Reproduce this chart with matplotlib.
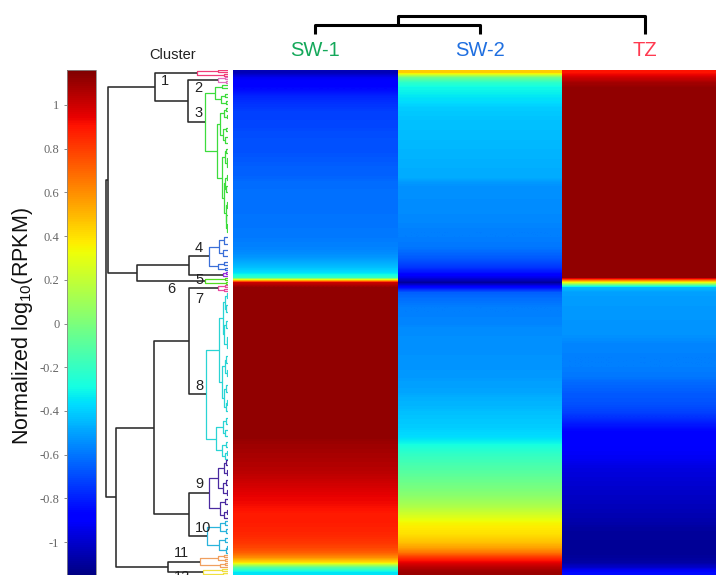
import numpy as np
import matplotlib
matplotlib.use("Agg")
import matplotlib.pyplot as plt
from matplotlib.colors import Normalize
from matplotlib.cm import ScalarMappable

# ---------------- data ----------------
samples = ["SW-1", "SW-2", "TZ"]
sample_colors = ["#14a85a", "#1f6fe0", "#ff3a50"]

# normalized log10(RPKM), one value per gene-row block (top -> bottom)
sw1 = [-1.05, -0.93, -0.88, -0.86, -0.82, -0.78, -0.76, -0.74, -0.72, -0.72,
       -0.71, -0.71, -0.69, -0.69, -0.68, -0.68, -0.68, -0.67, -0.66, -0.65,
       -0.65, -0.64, -0.62, -0.62, -0.61, -0.61, -0.61, -0.61, -0.61, -0.60,
       -0.60, -0.60, -0.59, -0.59, -0.58, -0.57, -0.55, -0.52, -0.48, -0.43,
       -0.36, -0.20, 1.00, 1.12, 1.12, 1.12, 1.12, 1.12, 1.12, 1.12,
       1.12, 1.12, 1.12, 1.12, 1.12, 1.12, 1.12, 1.12, 1.12, 1.12,
       1.12, 1.12, 1.12, 1.12, 1.12, 1.12, 1.12, 1.12, 1.12, 1.12,
       1.12, 1.12, 1.12, 1.12, 1.10, 1.09, 1.08, 1.07, 1.06, 1.05,
       1.04, 1.02, 1.00, 0.98, 0.96, 0.94, 0.93, 0.91, 0.89, 0.88,
       0.88, 0.87, 0.86, 0.84, 0.82, 0.78, 0.72, 0.60, 0.40, -0.10,
       -0.35]
sw2 = [0.45, -0.05, -0.22, -0.30, -0.32, -0.35, -0.37, -0.40, -0.41, -0.42,
       -0.43, -0.43, -0.44, -0.44, -0.45, -0.45, -0.46, -0.46, -0.47, -0.47,
       -0.48, -0.48, -0.52, -0.54, -0.54, -0.54, -0.55, -0.55, -0.55, -0.56,
       -0.56, -0.57, -0.58, -0.58, -0.59, -0.60, -0.63, -0.66, -0.70, -0.75,
       -0.83, -0.95, -1.10, -0.85, -0.65, -0.62, -0.60, -0.58, -0.58, -0.57,
       -0.57, -0.55, -0.55, -0.54, -0.54, -0.54, -0.54, -0.53, -0.53, -0.53,
       -0.52, -0.52, -0.50, -0.50, -0.49, -0.47, -0.46, -0.45, -0.43, -0.42,
       -0.41, -0.40, -0.38, -0.36, -0.31, -0.26, -0.22, -0.19, -0.16, -0.13,
       -0.10, -0.07, -0.04, -0.01, 0.02, 0.06, 0.10, 0.15, 0.22, 0.28,
       0.34, 0.37, 0.39, 0.43, 0.48, 0.55, 0.66, 0.82, 0.95, 1.05,
       1.10]
tz = [0.90, 1.00, 1.08, 1.12, 1.12, 1.12, 1.12, 1.12, 1.12, 1.12,
      1.12, 1.12, 1.12, 1.12, 1.12, 1.12, 1.12, 1.12, 1.12, 1.12,
      1.12, 1.12, 1.12, 1.12, 1.12, 1.12, 1.12, 1.12, 1.12, 1.12,
      1.12, 1.12, 1.12, 1.12, 1.12, 1.12, 1.12, 1.12, 1.12, 1.12,
      1.12, 1.12, 0.30, -0.45, -0.50, -0.51, -0.51, -0.52, -0.52, -0.52,
      -0.53, -0.53, -0.53, -0.54, -0.56, -0.57, -0.57, -0.58, -0.58, -0.58,
      -0.59, -0.60, -0.63, -0.64, -0.66, -0.67, -0.68, -0.70, -0.72, -0.76,
      -0.80, -0.84, -0.87, -0.88, -0.89, -0.90, -0.91, -0.92, -0.94, -0.96,
      -0.97, -0.98, -0.99, -1.00, -1.01, -1.02, -1.03, -1.04, -1.05, -1.06,
      -1.07, -1.09, -1.10, -1.10, -1.11, -1.11, -1.11, -1.10, -1.08, -1.00,
      -0.85]

vmin, vmax = -1.16, 1.16
cbar_ticks = [1, 0.8, 0.6, 0.4, 0.2, 0, -0.2, -0.4, -0.6, -0.8, -1]
cbar_ticklabels = ["1", "0.8", "0.6", "0.4", "0.2", "0", "-0.2", "-0.4", "-0.6", "-0.8", "-1"]

# row dendrogram: [height, left, right]; leaves are row positions
cluster_trees = {
    "c1": [31, [10, 0.0, 0.4], [4, 0.7, 1.1]],
    "c2": [10, [3, 1.4, 1.8], [2, 2.2, 2.6]],
    "c3": [23,
           [13, [6, 3.0, 3.6], [7, [3, 4.8, 5.4], [2, 6.2, 6.8]]],
           [11,
            [8, [4, [2, 7.6, 8.2], [1.5, 9.0, 9.6]], [5, [2, 11.5, 12.2], [3, 13.4, 14.6]]],
            [6,
             [3.5, [2, 15.8, 16.6], [1.5, [1, 17.6, 18.2], 19.4]],
             [4, [3, [1.5, 21.0, 22.0], [2, 23.2, 24.4]],
              [2.5, [1.5, 26.4, 27.6], [2, 29.0, [1, 30.8, 32.4]]]]]]],
    "c4": [19, [9, [4, 33.4, 34.8], [5, 36.0, 37.2]], [10, [4, 38.4, 39.0], [3, 39.5, 40.0]]],
    "c5": [5, [2, 40.4, 40.8], 41.2],
    "c6": [23, [3, 41.5, 41.9], [2, 42.3, 42.7]],
    "c7": [10, [3, 42.9, 43.3], [4, 43.7, 44.2]],
    "c8": [22,
           [9,
            [5, [3, [1.5, 44.6, 45.6], [2, 47.0, 48.4]],
             [4, [2, 50.2, 51.6], [1.5, [1, 53.4, 54.4], 55.6]]],
            [6, [3, [2, 57.2, 58.6], [1.5, 60.0, 61.2]],
             [4, [2.5, 63.0, 64.4], [2, [1, 66.0, 67.0], 68.2]]]],
           [12, [5, [2, 69.6, 70.8], [3, 72.0, 73.2]],
            [6, [2, 74.4, 75.4], [3, [1.5, 76.2, 77.0], 77.8]]]],
    "c9": [19, [10, [4, [2, 78.0, 79.0], [1.5, 80.0, 81.0]], [5, [2, 82.0, 83.0], [1.5, 84.0, 85.0]]],
           [8, [3, 85.8, 86.8], [4, [1.5, 88.0, 88.8], 89.6]]],
    "c10": [21, [8, [3, 90.2, 91.0], [2.5, 91.8, 92.6]], [9, [3, 93.6, 94.4], [2, [1, 95.2, 95.8], 96.5]]],
    "c11": [28, [10, [4, 97.0, 97.4], [3, 97.8, 98.2]], [8, [3, 98.5, 98.9], 99.3]],
    "c12": [25, [6, 99.7, 100.1], [5, 100.5, 101.0]],
}
main_tree = [122,
             [120, [73, "c1", [40, "c2", "c3"]], [91, [39, "c4", "c5"], "c6"]],
             [112, [74, [39, "c7", "c8"], [39, "c9", "c10"]], [60, "c11", "c12"]]]
col_tree = [18, [9, 0, 1], 2]

# ---------------- styles ----------------
cluster_colors = {"c1": "#f03c78", "c2": "#e070c0", "c3": "#3ddc3d", "c4": "#3a6fd8",
                  "c5": "#9a30e0", "c6": "#55dd22", "c7": "#e84aa0", "c8": "#2ad4d4",
                  "c9": "#4a2aa0", "c10": "#2ab4dc", "c11": "#f0a060", "c12": "#f0e040"}
label_va = {"c1": "top", "c2": "top", "c3": "bottom", "c4": "bottom", "c5": "top",
            "c6": "top", "c7": "top", "c8": "bottom", "c9": "bottom", "c10": "bottom",
            "c11": "bottom", "c12": "top"}
label_dx = {"c6": 24}
label_dy = {"c5": -0.5, "c7": 0.5, "c12": -0.6}
TREE_BLACK = "#2b2b2b"

W, H = 716, 575
fig = plt.figure(figsize=(W / 100, H / 100), dpi=100)
fig.patch.set_facecolor("white")


def px_axes(x0, y0, x1, y1):
    return fig.add_axes([x0 / W, 1 - y1 / H, (x1 - x0) / W, (y1 - y0) / H])


def build(node, color, segs, labels, leaf_pos):
    if isinstance(node, str):
        return build(cluster_trees[node], cluster_colors[node], segs, labels, leaf_pos)
    if isinstance(node, list):
        h, a, b = node
        pa, ha = build(a, color, segs, labels, leaf_pos)
        pb, hb = build(b, color, segs, labels, leaf_pos)
        for child, p in ((a, pa), (b, pb)):
            if isinstance(child, str):
                labels.append((child, p, h))
        segs.append(([ha, h, h, hb], [pa, pa, pb, pb], color))
        return (pa + pb) / 2.0, h
    return leaf_pos(node), 0.0


nrows = len(sw1)
norm = Normalize(vmin=vmin, vmax=vmax)

# ---------------- heatmap ----------------
ax_h = px_axes(233, 70, 727, 575)
for j, col in enumerate([sw1, sw2, tz]):
    ax_h.imshow(np.array(col)[:, None], extent=(j, j + 1, nrows, 0), aspect="auto",
                cmap="jet", norm=norm, interpolation="bilinear", interpolation_stage="data")
ax_h.set_xlim(0, 3)
ax_h.set_ylim(nrows, 0)
ax_h.set_axis_off()
for j, (name, c) in enumerate(zip(samples, sample_colors)):
    ax_h.text(j + 0.5, -4.0, name, color=c, ha="center", va="center",
              fontsize=14.5, family="Liberation Sans", clip_on=False)

# ---------------- row dendrogram ----------------
ax_d = px_axes(103, 70, 228, 575)
segs, labels = [], []
build(main_tree, TREE_BLACK, segs, labels, lambda v: float(v))
for xs, ys, c in segs:
    lw = 1.15 if c == TREE_BLACK else 0.9
    ax_d.plot(xs, ys, color=c, lw=lw, solid_capstyle="butt")
for name, p, hpar in labels:
    va = label_va[name]
    y = p + 0.3 if va == "top" else p - 0.3
    y += label_dy.get(name, 0)
    ax_d.text(hpar - 6 - label_dx.get(name, 0), y, name[1:], ha="left", va=va,
              fontsize=10.5, family="Liberation Sans", color="#222222", clip_on=False)
ax_d.set_xlim(125, 0)
ax_d.set_ylim(nrows, 0)
ax_d.set_axis_off()
fig.text(173 / W, 1 - 55 / H, "Cluster", ha="center", va="center",
         fontsize=10.5, family="Liberation Sans", color="#222222")

# ---------------- column dendrogram ----------------
ax_t = px_axes(233, 10, 727, 34)
csegs, clabels = [], []
build(col_tree, "black", csegs, clabels, lambda v: v + 0.5)
for ys, xs, c in csegs:
    ax_t.plot(xs, ys, color="black", lw=2.2, solid_capstyle="butt", clip_on=False)
ax_t.set_xlim(0, 3)
ax_t.set_ylim(0, 24)
ax_t.set_axis_off()

# ---------------- colorbar ----------------
cax = px_axes(67, 70, 96, 577)
sm = ScalarMappable(norm=norm, cmap="jet")
cb = fig.colorbar(sm, cax=cax)
cax.yaxis.set_ticks_position("left")
cb.set_ticks(cbar_ticks, labels=cbar_ticklabels)
cax.tick_params(axis="y", direction="out", length=2.5, width=0.6, color="#777777",
                pad=3, labelsize=9, labelcolor="#666666")
for t in cax.get_yticklabels():
    t.set_family("Liberation Serif")
cb.outline.set_edgecolor("#888888")
cb.outline.set_linewidth(0.6)

fig.text(23 / W, 1 - 326 / H, "Normalized log$_{\\mathregular{10}}$(RPKM)", rotation=90,
         ha="center", va="center", fontsize=15.5, family="Liberation Sans", color="#111111")

fig.savefig("out.png", dpi=100)
